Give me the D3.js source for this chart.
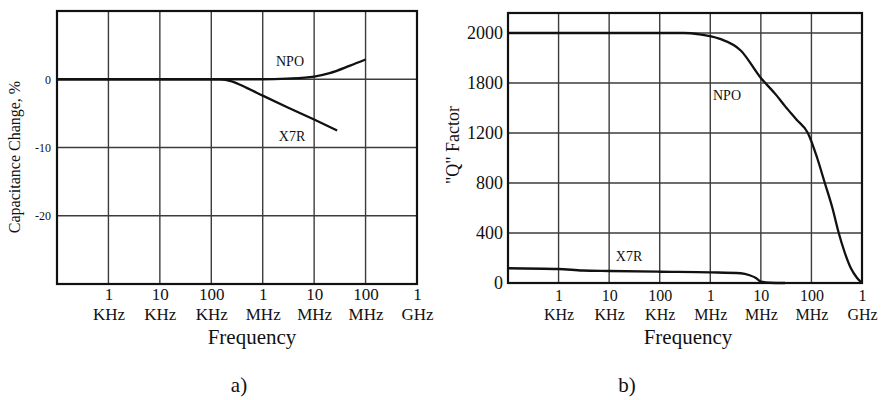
<!DOCTYPE html>
<html>
<head>
<meta charset="utf-8">
<script src="https://cdn.jsdelivr.net/npm/d3@7"></script>
<style>
  body { margin: 0; background: #fff; }
  svg text { font-family: "Liberation Serif", "Times New Roman", serif; fill: #111; }
</style>
</head>
<body>
<svg id="chart" width="883" height="400"></svg>
<script>
// Frequency axis (shared by both panels)
const freqTicks = [1e3, 1e4, 1e5, 1e6, 1e7, 1e8, 1e9];
const freqTickNums = ["1", "10", "100", "1", "10", "100", "1"];
const freqTickUnits = ["KHz", "KHz", "KHz", "MHz", "MHz", "MHz", "GHz"];

// Panel a) capacitance change, % vs frequency
const capTicks = [0, -10, -20];
const capTickLabels = ["0", "-10", "-20"];
const capNPO = [[1e2, 0], [1e6, 0], [3e6, 0.1], [1e7, 0.4], [2e7, 0.9], [5e7, 2.0], [1e8, 2.9]];
const capX7R = [[1e2, 0], [1.5e5, 0], [2.5e5, -0.3], [5e5, -1.3], [1e6, -2.4], [3e6, -4.1], [1e7, -5.9], [2.8e7, -7.5]];

// Panel b) "Q" factor vs frequency
const qTicks = [0, 400, 800, 1200, 1600, 2000];
const qTickLabels = ["0", "400", "800", "1200", "1800", "2000"];
const qNPO = [[1e2, 2000], [3e5, 2000], [6e5, 1990], [1.5e6, 1955], [4e6, 1860], [1e7, 1640],
              [2e7, 1505], [3e7, 1415], [5e7, 1310], [8.5e7, 1200], [1.3e8, 1000], [1.84e8, 800],
              [2.6e8, 600], [3.47e8, 400], [4.5e8, 250], [6e8, 120], [8e8, 40], [1e9, 0]];
const qX7R = [[1e2, 118], [1e3, 112], [3e3, 100], [1e4, 96], [1e5, 90], [1e6, 85], [4e6, 78],
              [6e6, 62], [8e6, 40], [1e7, 12], [1.5e7, 2], [3e7, 0]];

const svg = d3.select("#chart");

function drawPanel(p) {
  const x = d3.scaleLog().domain([1e2, 1e9]).range([p.left, p.right]);
  const y = d3.scaleLinear().domain(p.yDomain).range([p.bottom, p.top]);
  const g = svg.append("g");

  // grid
  g.selectAll("line.vgrid").data(freqTicks.slice(0, -1)).join("line")
    .attr("x1", d => x(d)).attr("x2", d => x(d))
    .attr("y1", p.top).attr("y2", p.bottom)
    .attr("stroke", "#3c3c3c").attr("stroke-width", 1.4);
  g.selectAll("line.hgrid").data(p.yTicks.filter(v => v !== p.yDomain[0])).join("line")
    .attr("x1", p.left).attr("x2", p.right)
    .attr("y1", d => y(d)).attr("y2", d => y(d))
    .attr("stroke", "#3c3c3c").attr("stroke-width", 1.4);

  // frame
  g.append("rect")
    .attr("x", p.left).attr("y", p.top)
    .attr("width", p.right - p.left).attr("height", p.bottom - p.top)
    .attr("fill", "none").attr("stroke", "#111").attr("stroke-width", 2.2);

  // curves
  const line = d3.line().x(d => x(d[0])).y(d => y(d[1])).curve(d3.curveMonotoneX);
  p.series.forEach(s => {
    g.append("path").datum(s.data)
      .attr("d", line)
      .attr("fill", "none").attr("stroke", "#111").attr("stroke-width", 2.3);
    g.append("text").text(s.name)
      .attr("x", s.lx).attr("y", s.ly)
      .attr("text-anchor", "middle")
      .attr("font-size", p.seriesFont);
  });

  // x axis: number on the first row, unit on the second row of one label
  const xAxis = d3.axisBottom(x).tickValues(freqTicks)
    .tickFormat((d, i) => freqTickNums[i]).tickSize(0);
  const ax = g.append("g").attr("transform", `translate(0,${p.bottom})`).call(xAxis);
  ax.select(".domain").remove();
  ax.selectAll(".tick text").each(function (d, i) {
    const t = d3.select(this).text(null)
      .attr("y", 0).attr("dy", 0)
      .attr("font-size", p.xFont).attr("fill", "#111");
    t.append("tspan").attr("x", 0).attr("y", p.numBase - p.bottom).text(freqTickNums[i]);
    t.append("tspan").attr("x", 0).attr("y", p.unitBase - p.bottom).text(freqTickUnits[i]);
  });

  // y axis
  const yAxis = d3.axisLeft(y).tickValues(p.yTicks)
    .tickFormat((d, i) => p.yLabels[i]).tickSize(0).tickPadding(p.yPad);
  const ay = g.append("g").attr("transform", `translate(${p.left},0)`).call(yAxis);
  ay.select(".domain").remove();
  ay.selectAll(".tick text").attr("font-size", p.yFont).attr("fill", "#111");

  // titles
  g.append("text").text("Frequency")
    .attr("x", p.freqX).attr("y", 344)
    .attr("text-anchor", "middle").attr("font-size", 21);
  g.append("text").text(p.yTitle)
    .attr("transform", `translate(${p.yTitleX},${p.yTitleY}) rotate(-90)`)
    .attr("text-anchor", "middle").attr("font-size", p.yTitleFont);
  g.append("text").text(p.caption)
    .attr("x", p.captionX).attr("y", 392)
    .attr("text-anchor", "middle").attr("font-size", 21);
}

drawPanel({
  left: 57, right: 417, top: 11, bottom: 284,
  yDomain: [-30, 10], yTicks: capTicks, yLabels: capTickLabels,
  yFont: 12, yPad: 6, xFont: 17, numBase: 300, unitBase: 320,
  yTitle: "Capacitance Change, %", yTitleX: 20, yTitleY: 157, yTitleFont: 16,
  freqX: 252, caption: "a)", captionX: 239, seriesFont: 14,
  series: [
    { name: "NPO", data: capNPO, lx: 290, ly: 66 },
    { name: "X7R", data: capX7R, lx: 292, ly: 141 }
  ]
});

drawPanel({
  left: 508, right: 862, top: 13, bottom: 283,
  yDomain: [0, 2160], yTicks: qTicks, yLabels: qTickLabels,
  yFont: 18, yPad: 5, xFont: 16, numBase: 301, unitBase: 320,
  yTitle: "\"Q\" Factor", yTitleX: 459, yTitleY: 145, yTitleFont: 18,
  freqX: 688, caption: "b)", captionX: 627, seriesFont: 14,
  series: [
    { name: "NPO", data: qNPO, lx: 727, ly: 100 },
    { name: "X7R", data: qX7R, lx: 629, ly: 261 }
  ]
});
</script>
</body>
</html>
